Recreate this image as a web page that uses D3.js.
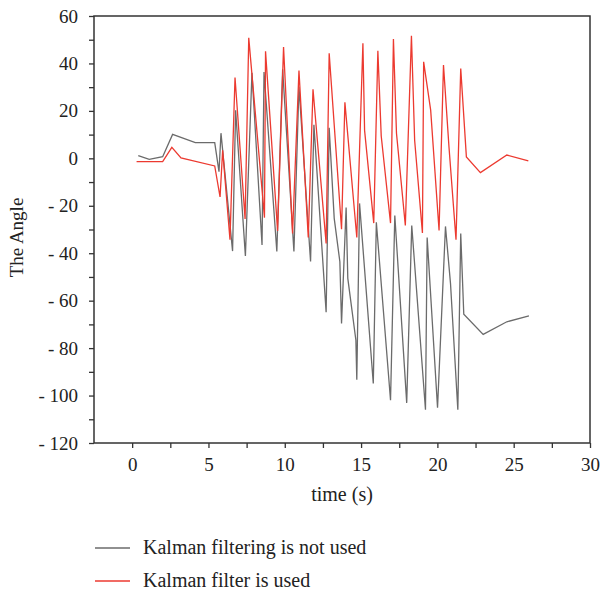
<!DOCTYPE html>
<html>
<head>
<meta charset="utf-8">
<script src="https://cdn.jsdelivr.net/npm/d3@7"></script>
<style>
  body { margin: 0; background: #fff; }
  text { font-family: "Liberation Serif", "DejaVu Serif", serif; fill: #222; }
</style>
</head>
<body>
<svg id="chart" width="601" height="594"></svg>
<script>
  // data (time in s, angle)
  var tNoKalman = [0.4,1.12,2.0,2.65,4.14,5.41,5.69,5.82,6.58,6.78,7.42,7.85,8.51,8.64,9.48,9.86,10.6,10.93,11.69,11.91,12.71,12.91,13.24,13.61,13.72,14.02,14.13,14.66,14.72,14.9,15.8,16.0,16.93,17.21,17.99,18.32,19.22,19.33,20.01,20.53,20.86,21.34,21.53,21.73,23.0,24.55,26.0];
  var vNoKalman = [1.1,-0.4,0.7,10.1,6.6,6.6,-5.6,10.6,-39.1,20.3,-41.2,36.1,-36.5,36.4,-39.3,37.5,-39.3,30.2,-43.5,14.1,-64.9,12.9,-25.3,-43.6,-69.6,-20.7,-50.6,-76.7,-93.3,-19,-94.9,-27,-102,-24.1,-103.1,-28.3,-106,-33.4,-105.1,-28.7,-52.8,-106,-31.7,-65.7,-74.2,-68.9,-66.4];

  var tKalman = [0.29,2.0,2.6,3.2,5.41,5.76,5.93,6.41,6.74,7.4,7.64,8.67,8.74,9.53,9.92,10.51,10.93,11.54,11.85,12.71,12.91,13.72,13.94,14.72,15.12,15.23,15.83,16.1,16.32,16.93,17.12,17.32,17.9,18.3,18.51,19.02,19.1,19.56,20.11,20.4,20.76,21.22,21.53,21.9,22.82,24.55,25.96];
  var vKalman = [-1.4,-1.4,4.6,0.2,-3.2,-16.3,3.4,-34.3,34.1,-25.6,50.8,-25,45.1,-30.6,46.9,-31.7,37,-33.4,29.1,-35.9,44.3,-29.9,23.6,-33.4,48.5,11.8,-27.3,45.3,9.4,-27.3,50.3,10.6,-28.3,51.7,7.6,-31.5,40.7,20.3,-30.4,39.3,4.8,-34.3,37.9,0.6,-6,1.4,-1.1];

  var xTicks = [0,5,10,15,20,25,30];
  var yTicks = [60,40,20,0,-20,-40,-60,-80,-100,-120];
  var seriesNames = ["Kalman filtering is not used", "Kalman filter is used"];
  var seriesColors = ["#6b6b6b", "#ec3a30"];

  var svg = d3.select("#chart");
  var plotLeft = 94, plotRight = 590, plotTop = 16, plotBottom = 443;

  var x = d3.scaleLinear().domain([-2.5, 30]).range([plotLeft, plotRight]);
  var y = d3.scaleLinear().domain([-120, 60]).range([plotBottom, plotTop]);

  // frame
  svg.append("rect")
    .attr("x", plotLeft).attr("y", plotTop)
    .attr("width", plotRight - plotLeft).attr("height", plotBottom - plotTop)
    .attr("fill", "none").attr("stroke", "#333").attr("stroke-width", 1.5);

  // x axis: ticks every 2.5, labels on the 5s
  var xAxis = d3.axisBottom(x)
    .tickValues(d3.range(0, 30.01, 2.5))
    .tickSize(5)
    .tickPadding(10)
    .tickFormat(function(d) { return xTicks.indexOf(d) >= 0 ? d : ""; });
  var gx = svg.append("g").attr("transform", "translate(0," + plotBottom + ")").call(xAxis);
  gx.select(".domain").remove();
  gx.selectAll("line").attr("stroke", "#333").attr("stroke-width", 1.3);
  gx.selectAll("text").style("font-size", "19px").attr("fill", "#222")
    .style("font-family", "Liberation Serif, serif");

  // y axis: ticks every 10, labels on the 20s
  var yAxis = d3.axisLeft(y)
    .tickValues(d3.range(-120, 60.01, 10))
    .tickSize(5)
    .tickPadding(11)
    .tickFormat(function(d) { return yTicks.indexOf(d) >= 0 ? d : ""; });
  var gy = svg.append("g").attr("transform", "translate(" + plotLeft + ",0)").call(yAxis);
  gy.select(".domain").remove();
  gy.selectAll("line").attr("stroke", "#333").attr("stroke-width", 1.3);
  gy.selectAll("text").style("font-size", "19px").attr("fill", "#222")
    .style("font-family", "Liberation Serif, serif")
    .text(function(d) { return yTicks.indexOf(d) >= 0 ? String(d).replace("-", "- ") : ""; });

  // axis titles
  svg.append("text")
    .attr("x", (plotLeft + plotRight) / 2).attr("y", 501)
    .attr("text-anchor", "middle")
    .style("font-size", "20px")
    .text("time (s)");
  svg.append("text")
    .attr("transform", "translate(23," + ((plotTop + plotBottom) / 2 + 8) + ") rotate(-90)")
    .attr("text-anchor", "middle")
    .style("font-size", "19px")
    .text("The Angle");

  // lines
  var line = d3.line()
    .x(function(d) { return x(d[0]); })
    .y(function(d) { return y(d[1]); });

  var series = [
    d3.zip(tNoKalman, vNoKalman),
    d3.zip(tKalman, vKalman)
  ];

  svg.append("g")
    .selectAll("path")
    .data(series)
    .enter()
    .append("path")
    .attr("d", line)
    .attr("fill", "none")
    .attr("stroke", function(d, i) { return seriesColors[i]; })
    .attr("stroke-width", 1.3)
    .attr("stroke-linejoin", "miter");

  // legend
  var legend = svg.append("g")
    .selectAll("g")
    .data(seriesNames)
    .enter()
    .append("g")
    .attr("transform", function(d, i) { return "translate(95," + (548 + i * 33) + ")"; });
  legend.append("line")
    .attr("x1", 0).attr("x2", 35)
    .attr("stroke", function(d, i) { return seriesColors[i]; })
    .attr("stroke-width", 1.3);
  legend.append("text")
    .attr("x", 48).attr("y", 6)
    .style("font-size", "20px")
    .text(function(d) { return d; });
</script>
</body>
</html>
